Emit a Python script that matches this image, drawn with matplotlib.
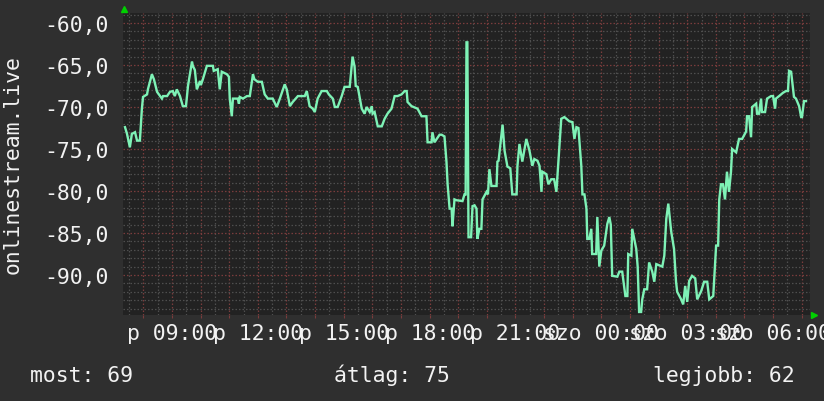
import matplotlib
matplotlib.use("Agg")
import matplotlib.pyplot as plt
from matplotlib.ticker import MultipleLocator, FixedLocator

# ---- data (hours since Friday 00:00, value) ----
hours = [7.36, 7.43, 7.53, 7.60, 7.71, 7.78, 7.88, 7.95, 7.99, 8.13, 8.16, 8.30, 8.37, 8.48, 8.65, 8.69,
         8.83, 8.93, 9.03, 9.10, 9.17, 9.28, 9.38, 9.49, 9.56, 9.70, 9.73, 9.80, 9.87, 9.98, 10.01, 10.08,
         10.22, 10.43, 10.46, 10.60, 10.67, 10.74, 10.92, 10.99, 11.02, 11.09, 11.13, 11.30, 11.34, 11.37,
         11.48, 11.62, 11.72, 11.83, 11.88, 12.00, 12.14, 12.24, 12.35, 12.52, 12.66, 12.77, 12.94, 13.01,
         13.12, 13.22, 13.40,
         13.46, 13.64, 13.71, 13.81, 13.92, 13.99, 14.09, 14.23, 14.41, 14.48, 14.62, 14.69, 14.79, 14.93,
         15.03, 15.21, 15.31, 15.38, 15.42, 15.49, 15.63, 15.73, 15.80, 15.91, 15.98, 16.01, 16.08, 16.19,
         16.33, 16.43, 16.53, 16.67, 16.78, 16.88, 17.02, 17.13, 17.20, 17.23, 17.37, 17.58, 17.72, 17.83,
         17.89, 17.93, 18.07, 18.10, 18.17, 18.35, 18.42, 18.52, 18.59, 18.63, 18.70, 18.77, 18.80, 18.87,
         18.94, 19.15, 19.22, 19.26, 19.29, 19.32, 19.36, 19.45, 19.50, 19.57, 19.64, 19.67, 19.74, 19.81,
         19.85, 19.99, 20.04, 20.09, 20.16, 20.34, 20.37, 20.41, 20.55, 20.62, 20.72, 20.82, 20.89, 21.04,
         21.07, 21.14, 21.24, 21.38, 21.49, 21.59, 21.66, 21.77, 21.84, 21.91, 21.94, 22.08, 22.15, 22.25,
         22.35, 22.43, 22.60, 22.71, 22.88, 22.99, 23.06, 23.13, 23.20, 23.23, 23.30, 23.34, 23.41, 23.48,
         23.51, 23.58, 23.65, 23.68, 23.82, 23.86, 23.93, 24.00, 24.10, 24.21, 24.28, 24.33, 24.38, 24.56,
         24.63, 24.73, 24.84, 24.91, 24.94, 25.05, 25.08, 25.22, 25.27, 25.32, 25.39, 25.43, 25.50, 25.60,
         25.67, 25.78, 25.85, 25.92, 26.13, 26.20, 26.27, 26.34, 26.44, 26.54, 26.61, 26.65, 26.79, 26.86,
         26.93, 27.00, 27.07, 27.17, 27.28, 27.35, 27.49, 27.59, 27.70, 27.77, 27.91, 28.01, 28.08, 28.12,
         28.18, 28.25, 28.32, 28.39, 28.46, 28.53, 28.57, 28.71, 28.81, 28.92, 29.06, 29.09, 29.16, 29.23,
         29.27, 29.41, 29.44, 29.51, 29.58, 29.61, 29.72, 29.79, 29.93, 30.00, 30.07, 30.10, 30.21, 30.35,
         30.45, 30.52, 30.56, 30.63, 30.66, 30.73, 30.80, 30.91, 30.98, 31.01, 31.08, 31.15]

values = [-72.4, -73.2, -74.8, -73.2, -73.0, -74.0, -74.0, -70.2, -68.8, -68.5, -67.9, -66.1, -66.7, -68.2, -69.0, -68.7,
          -68.7, -68.2, -68.1, -68.7, -67.9, -68.7, -69.9, -69.9, -67.5, -64.6, -65.1, -65.6, -67.9, -66.9, -67.4, -66.7,
          -65.1, -65.1, -65.7, -65.5, -67.9, -65.8, -66.1, -66.4, -69.0, -71.1, -69.0, -69.0, -69.6, -68.8,
          -69.0, -68.7, -68.7, -66.1, -66.7, -67.0, -67.0, -68.5, -69.0, -69.0, -70.0, -69.0, -67.3, -67.9,
          -69.9, -69.4, -68.7,
          -68.7, -68.7, -68.1, -69.9, -70.2, -70.6, -69.0, -68.1, -68.1, -68.5, -69.0, -70.0, -70.0, -68.7,
          -67.6, -67.6, -64.0, -65.2, -67.5, -67.6, -70.2, -70.8, -70.0, -70.6, -69.9, -70.8, -70.6, -72.3,
          -72.3, -71.4, -70.8, -70.2, -68.7, -68.7, -68.5, -68.1, -68.1, -69.4, -69.9, -70.2, -71.1, -71.1,
          -71.1, -74.2, -74.2, -73.0, -74.2, -73.3, -73.3, -73.5, -76.5, -79.2, -82.1, -82.1, -84.2, -81.0,
          -81.1, -81.2, -80.4, -80.4, -62.3, -62.3, -85.5, -85.5, -81.8, -81.7, -82.1, -85.7, -84.5, -84.5,
          -81.0, -80.1, -80.4, -77.4, -79.4, -79.4, -76.5, -76.4, -72.1, -75.2, -77.1, -77.3, -80.4, -80.4,
          -77.0, -74.4, -76.5, -73.8, -75.2, -77.0, -76.2, -76.4, -77.0, -80.1, -77.7, -78.0, -79.2, -78.6,
          -78.6, -80.1, -71.4, -71.2, -71.7, -71.8, -73.8, -72.4, -72.5, -73.9, -77.0, -80.4, -80.4, -82.1,
          -85.7, -85.7, -84.5, -87.5, -87.5, -83.1, -89.0, -87.1, -86.5, -83.9, -83.1, -84.0, -90.1, -90.2,
          -89.6, -89.6, -92.5, -92.5, -87.5, -87.7, -84.5, -86.9, -89.0, -94.4, -94.4, -92.9, -91.7, -91.7,
          -88.5, -89.6, -90.8, -88.7, -89.0, -87.7, -83.3, -81.5, -84.8, -86.9, -90.8, -92.0, -92.9, -93.5,
          -91.3, -93.2, -90.7, -90.1, -90.4, -92.9, -91.9, -90.8, -90.8, -92.9, -92.5, -86.5, -86.5, -81.0,
          -79.2, -79.2, -81.0, -77.7, -80.1, -77.7, -75.0, -75.4, -73.8, -73.8, -72.9, -71.1, -71.1, -73.6,
          -70.0, -69.6, -70.8, -70.8, -69.0, -70.6, -70.6, -69.0, -68.7, -68.7, -70.2, -69.0, -68.7, -68.3,
          -68.1, -68.1, -65.7, -65.8, -66.7, -68.8, -69.0, -69.9, -71.2, -71.2, -69.3, -69.3]

xtick_hours = [9, 12, 15, 18, 21, 24, 27, 30]
xtick_labels = ["p 09:00", "p 12:00", "p 15:00", "p 18:00", "p 21:00",
                "szo 00:00", "szo 03:00", "szo 06:00"]
ytick_values = [-90, -85, -80, -75, -70, -65, -60]
ylabel = "onlinestream.live"
legend_items = ["most: 69", "átlag: 75", "legjobb: 62"]

# ---- style ----
W, H = 824, 402
FIG_BG = "#2f2f2f"
PLOT_BG = "#222222"
LINE = "#7ef2b6"
MAJ = "#7a3c3c"
MIN = "#4e4e4e"
TXT = "#f2f2f2"
FONT = "DejaVu Sans Mono"
FS = 15.4

fig = plt.figure(figsize=(W / 100, H / 100), dpi=100, facecolor=FIG_BG)
l, r, t, b = 123, 810, 14, 316
ax = fig.add_axes([l / W, 1 - b / H, (r - l) / W, (b - t) / H])
ax.set_facecolor(PLOT_BG)

x0 = 7.29
ax.set_xlim(x0, x0 + 24)
ax.set_ylim(-94.76, -58.81)

ax.xaxis.set_major_locator(MultipleLocator(1))
ax.xaxis.set_minor_locator(MultipleLocator(0.5))
ax.yaxis.set_major_locator(FixedLocator(ytick_values))
ax.yaxis.set_minor_locator(MultipleLocator(1))

dots = (0, (1.2, 1.6))
ax.grid(which="minor", color=MIN, linestyle=dots, linewidth=0.9)
ax.grid(which="major", color=MAJ, linestyle=dots, linewidth=0.9)
ax.set_axisbelow(True)

ax.plot(hours, values, color=LINE, linewidth=1.7, solid_joinstyle="miter", zorder=3)

for s in ax.spines.values():
    s.set_visible(False)

# x labels only every 3 hours
major_x = list(range(8, 32))
lab_map = dict(zip(xtick_hours, xtick_labels))
ax.set_xticks(major_x)
ax.set_xticklabels([lab_map.get(h, "") for h in major_x])
ax.tick_params(axis="x", which="major", length=2.5, color=MAJ, width=0.8, pad=3.5,
               labelsize=FS, labelcolor=TXT)
ax.tick_params(axis="x", which="minor", length=0)
ax.set_yticklabels([f"{v:.1f}".replace(".", ",") for v in ytick_values])
ax.tick_params(axis="y", which="both", length=0, pad=10.5, labelsize=FS, labelcolor=TXT)
for lab in ax.get_xticklabels() + ax.get_yticklabels():
    lab.set_fontfamily(FONT)

fig.text(12.5 / W, 1 - 165 / H, ylabel, rotation=90, ha="center", va="center",
         color=TXT, fontsize=FS, family=FONT)

# legend line
fig.text(30 / W, 1 - 382 / H, legend_items[0], ha="left", va="baseline",
         color=TXT, fontsize=FS, family=FONT)
fig.text(392 / W, 1 - 382 / H, legend_items[1], ha="center", va="baseline",
         color=TXT, fontsize=FS, family=FONT)
fig.text(795 / W, 1 - 382 / H, legend_items[2], ha="right", va="baseline",
         color=TXT, fontsize=FS, family=FONT)

# arrows at axis ends
ax.plot([1 / 687], [1 + 4 / 302], marker="^", color="#00d000", markersize=5,
        transform=ax.transAxes, clip_on=False, zorder=5)
ax.plot([1 + 4 / 687], [0], marker=">", color="#00d000", markersize=5,
        transform=ax.transAxes, clip_on=False, zorder=5)

fig.savefig("out.png", dpi=100, facecolor=FIG_BG)
